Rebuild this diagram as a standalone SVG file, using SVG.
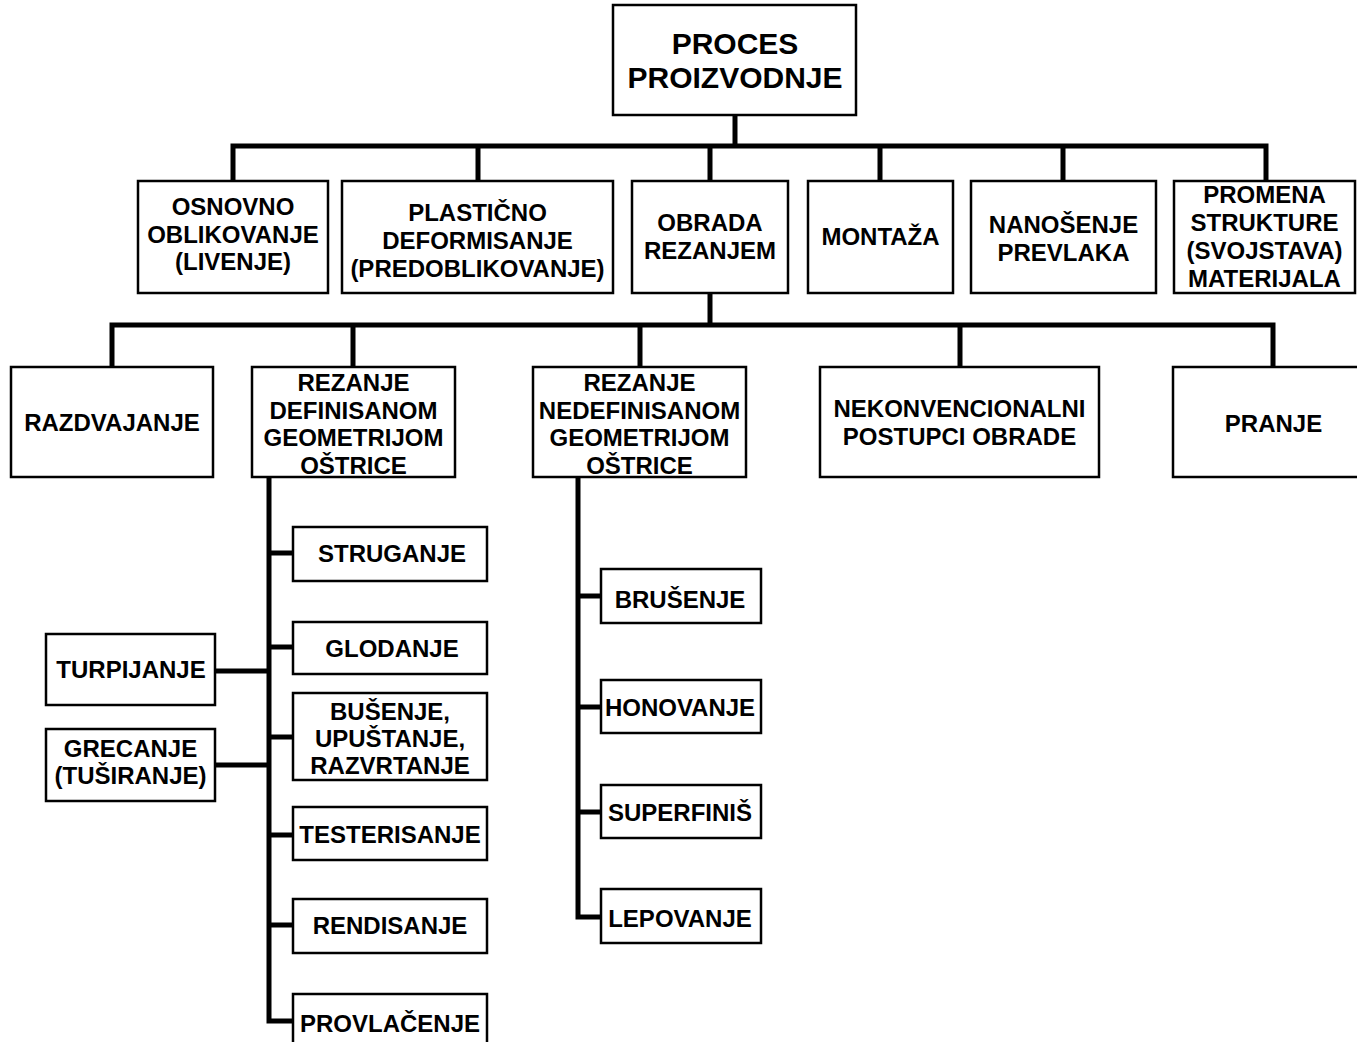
<svg xmlns="http://www.w3.org/2000/svg" width="1357" height="1042" viewBox="0 0 1357 1042">
<style>
.b{fill:#fff;stroke:#000;stroke-width:2.5}
.t{font-family:"Liberation Sans",Arial,sans-serif;font-weight:bold;font-size:24px;text-anchor:middle;fill:#000}
.big{font-size:30px}
.c{fill:none;stroke:#000;stroke-width:5;stroke-linejoin:miter}
</style>
<rect width="1357" height="1042" fill="#fff"/>
<g id="connectors" class="c">
<path d="M735 115V146"/>
<path d="M233 180V146H1266V180"/>
<path d="M478 146V180M710 146V180M880 146V180M1063 146V180"/>
<path d="M710 292V325"/>
<path d="M112 367V325H1273V367"/>
<path d="M353 325V367M640 325V367M960 325V367"/>
<path d="M269 477V1021H293"/>
<path d="M269 553H293M269 647H293M269 737H293M269 835H293M269 925H293"/>
<path d="M215 671H269M215 765H269"/>
<path d="M578 477V917H601"/>
<path d="M578 596H601M578 707H601M578 812H601"/>
</g>
<g id="proces"><rect class="b" x="613" y="5" width="243" height="110"/><text class="t big" x="735" y="54">PROCES</text><text class="t big" x="735" y="88">PROIZVODNJE</text></g>
<g id="osnovno"><rect class="b" x="138" y="181" width="190" height="112"/><text class="t" x="233" y="215">OSNOVNO</text><text class="t" x="233" y="243">OBLIKOVANJE</text><text class="t" x="233" y="270">(LIVENJE)</text></g>
<g id="plasticno"><rect class="b" x="342" y="181" width="271" height="112"/><text class="t" x="477.5" y="221">PLASTIČNO</text><text class="t" x="477.5" y="249">DEFORMISANJE</text><text class="t" x="477.5" y="277">(PREDOBLIKOVANJE)</text></g>
<g id="obrada"><rect class="b" x="632" y="181" width="156" height="112"/><text class="t" x="710" y="231">OBRADA</text><text class="t" x="710" y="259">REZANJEM</text></g>
<g id="montaza"><rect class="b" x="808" y="181" width="145" height="112"/><text class="t" x="880.5" y="245">MONTAŽA</text></g>
<g id="nanosenje"><rect class="b" x="971" y="181" width="185" height="112"/><text class="t" x="1063.5" y="233">NANOŠENJE</text><text class="t" x="1063.5" y="261">PREVLAKA</text></g>
<g id="promena"><rect class="b" x="1174" y="181" width="181" height="112"/><text class="t" x="1264.5" y="203">PROMENA</text><text class="t" x="1264.5" y="231">STRUKTURE</text><text class="t" x="1264.5" y="259">(SVOJSTAVA)</text><text class="t" x="1264.5" y="287">MATERIJALA</text></g>
<g id="razdvajanje"><rect class="b" x="11" y="367" width="202" height="110"/><text class="t" x="112" y="431">RAZDVAJANJE</text></g>
<g id="rezdef"><rect class="b" x="252" y="367" width="203" height="110"/><text class="t" x="353.5" y="391">REZANJE</text><text class="t" x="353.5" y="419">DEFINISANOM</text><text class="t" x="353.5" y="446">GEOMETRIJOM</text><text class="t" x="353.5" y="474">OŠTRICE</text></g>
<g id="reznedef"><rect class="b" x="533" y="367" width="213" height="110"/><text class="t" x="639.5" y="391">REZANJE</text><text class="t" x="639.5" y="419">NEDEFINISANOM</text><text class="t" x="639.5" y="446">GEOMETRIJOM</text><text class="t" x="639.5" y="474">OŠTRICE</text></g>
<g id="nekonv"><rect class="b" x="820" y="367" width="279" height="110"/><text class="t" x="959.5" y="417">NEKONVENCIONALNI</text><text class="t" x="959.5" y="445">POSTUPCI OBRADE</text></g>
<g id="pranje"><rect class="b" x="1173" y="367" width="186" height="110"/><text class="t" x="1273.5" y="432">PRANJE</text></g>
<g id="struganje"><rect class="b" x="293" y="527" width="194" height="54"/><text class="t" x="392" y="562">STRUGANJE</text></g>
<g id="glodanje"><rect class="b" x="293" y="622" width="194" height="52"/><text class="t" x="392" y="657">GLODANJE</text></g>
<g id="busenje"><rect class="b" x="293" y="693" width="194" height="87"/><text class="t" x="390" y="720">BUŠENJE,</text><text class="t" x="390" y="747">UPUŠTANJE,</text><text class="t" x="390" y="774">RAZVRTANJE</text></g>
<g id="testerisanje"><rect class="b" x="293" y="807" width="194" height="53"/><text class="t" x="390" y="843">TESTERISANJE</text></g>
<g id="rendisanje"><rect class="b" x="293" y="899" width="194" height="54"/><text class="t" x="390" y="934">RENDISANJE</text></g>
<g id="provlacenje"><rect class="b" x="293" y="994" width="194" height="60"/><text class="t" x="390" y="1032">PROVLAČENJE</text></g>
<g id="turpijanje"><rect class="b" x="46" y="634" width="169" height="71"/><text class="t" x="131" y="678">TURPIJANJE</text></g>
<g id="grecanje"><rect class="b" x="46" y="729" width="169" height="72"/><text class="t" x="130.5" y="757">GRECANJE</text><text class="t" x="130.5" y="784">(TUŠIRANJE)</text></g>
<g id="brusenje"><rect class="b" x="601" y="569" width="160" height="54"/><text class="t" x="680" y="608">BRUŠENJE</text></g>
<g id="honovanje"><rect class="b" x="601" y="680" width="160" height="53"/><text class="t" x="680" y="716">HONOVANJE</text></g>
<g id="superfinis"><rect class="b" x="601" y="785" width="160" height="53"/><text class="t" x="680" y="821">SUPERFINIŠ</text></g>
<g id="lepovanje"><rect class="b" x="601" y="889" width="160" height="54"/><text class="t" x="680" y="927">LEPOVANJE</text></g>
</svg>
